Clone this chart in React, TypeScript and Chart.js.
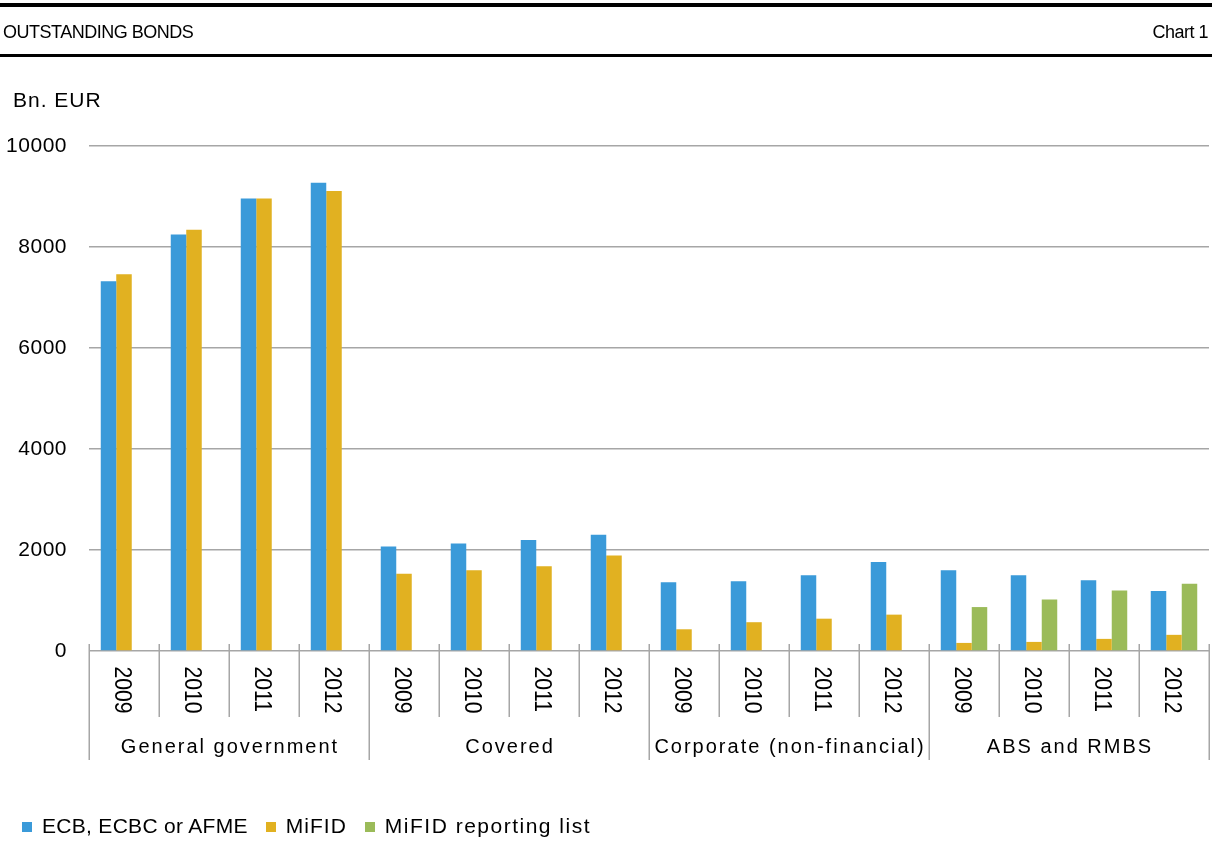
import React, { useEffect, useRef } from "react";
import { Chart, registerables } from "chart.js";

Chart.register(...registerables);

const categories = [
  "2009", "2010", "2011", "2012",
  "2009", "2010", "2011", "2012",
  "2009", "2010", "2011", "2012",
  "2009", "2010", "2011", "2012",
];
const groups = ["General government", "Covered", "Corporate (non-financial)", "ABS and RMBS"];
const ecbValues = [7320, 8250, 8960, 9270, 2070, 2130, 2200, 2300, 1360, 1380, 1500, 1760, 1600, 1500, 1400, 1190];
const mifidValues = [7460, 8340, 8960, 9110, 1530, 1600, 1680, 1890, 430, 570, 640, 720, 160, 180, 240, 320];
const reportingValues: (number | null)[] = [
  null, null, null, null, null, null, null, null, null, null, null, null, 870, 1020, 1200, 1330,
];
const seriesNames = ["ECB, ECBC or AFME", "MiFID", "MiFID reporting list"];
const seriesColors = ["#3a9ad9", "#e1b121", "#9bbb59"];
const yMin = 0;
const yMax = 10000;
const yStep = 2000;

const FONT = '"Liberation Sans", Arial, Helvetica, sans-serif';
const GRID = "#a6a6a6";

const groupAxisPlugin = {
  id: "groupAxis",
  beforeDraw(chart: any) {
    (chart.ctx as any).letterSpacing = "0.5px";
  },
  afterDraw(chart: any) {
    const ctx = chart.ctx;
    const area = chart.chartArea;
    const xs = chart.scales.x;
    const n = categories.length;
    const w = (area.right - area.left) / n;
    ctx.save();
    ctx.strokeStyle = GRID;
    ctx.lineWidth = 1.5;
    for (let i = 0; i <= n; i++) {
      const px = Math.round(area.left + i * w) + 0.25;
      const y1 = i % 4 === 0 ? area.bottom + 109 : area.bottom + 66;
      ctx.beginPath();
      ctx.moveTo(px, area.bottom - 7);
      ctx.lineTo(px, y1);
      ctx.stroke();
    }
    ctx.fillStyle = "#000";
    // rotated year labels (reading top to bottom)
    const yearSize = 24;
    ctx.font = `${yearSize}px ${FONT}`;
    (ctx as any).letterSpacing = "0px";
    ctx.textAlign = "left";
    ctx.textBaseline = "alphabetic";
    for (let i = 0; i < n; i++) {
      const cx = xs.getPixelForValue(i);
      ctx.save();
      ctx.translate(cx, area.bottom + 15.5);
      ctx.rotate(Math.PI / 2);
      ctx.scale(0.88, 1);
      ctx.fillText(categories[i], 0, (0.716 * yearSize) / 2);
      ctx.restore();
    }
    // group labels
    ctx.font = `20px ${FONT}`;
    (ctx as any).letterSpacing = "2px";
    ctx.textAlign = "center";
    for (let g = 0; g < groups.length; g++) {
      const cx = (xs.getPixelForValue(g * 4) + xs.getPixelForValue(g * 4 + 3)) / 2;
      ctx.fillText(groups[g], cx + 1, area.bottom + 102);
    }
    ctx.restore();
    (ctx as any).letterSpacing = "0px";
  },
};

function ChartView() {
  const ref = useRef<HTMLCanvasElement | null>(null);
  useEffect(() => {
    if (!ref.current) return;
    const chart = new Chart(ref.current, {
      type: "bar",
      data: {
        labels: categories,
        datasets: [
          { label: seriesNames[0], data: ecbValues, backgroundColor: seriesColors[0], borderWidth: 0 },
          { label: seriesNames[1], data: mifidValues, backgroundColor: seriesColors[1], borderWidth: 0 },
          { label: seriesNames[2], data: reportingValues as any, backgroundColor: seriesColors[2], borderWidth: 0 },
        ],
      },
      options: {
        responsive: false,
        animation: false,
        devicePixelRatio: 1,
        layout: { padding: { top: 146, left: 0, right: 3, bottom: 192 } },
        plugins: {
          legend: { display: false },
          tooltip: { enabled: false },
          title: { display: false },
        },
        datasets: {
          bar: { categoryPercentage: 0.664, barPercentage: 1 },
        },
        scales: {
          x: {
            display: false,
            grid: { display: false },
          },
          y: {
            min: yMin,
            max: yMax,
            afterFit: (scale: any) => {
              scale.width = 89;
            },
            border: { display: false },
            grid: { color: GRID, lineWidth: 1.5, drawTicks: false },
            ticks: {
              stepSize: yStep,
              padding: 22,
              color: "#000",
              font: { family: FONT, size: 21 },
              callback: (v: any) => String(v),
            },
          },
        },
      },
      plugins: [groupAxisPlugin],
    });
    return () => chart.destroy();
  }, []);
  return (
    <canvas
      ref={ref}
      width={1212}
      height={843}
      style={{ position: "absolute", left: 0, top: 0, width: 1212, height: 843 }}
    />
  );
}

const legendSpacing = ["0.3px", "1px", "1.5px"];

export default function App() {
  const text: React.CSSProperties = { position: "absolute", fontFamily: FONT, color: "#000", whiteSpace: "nowrap" };
  return (
    <div style={{ position: "absolute", left: 0, top: 0, width: 1212, height: 843, background: "#fff", overflow: "hidden" }}>
      <ChartView />
      <div style={{ position: "absolute", left: 0, top: 3, width: 1212, height: 4, background: "#000" }} />
      <div style={{ ...text, left: 3, top: 23, fontSize: 18, lineHeight: "18px", letterSpacing: "-0.5px" }}>OUTSTANDING BONDS</div>
      <div style={{ ...text, right: 4, top: 23, fontSize: 18, lineHeight: "18px", letterSpacing: "-0.5px" }}>Chart 1</div>
      <div style={{ position: "absolute", left: 0, top: 54, width: 1212, height: 3, background: "#000" }} />
      <div style={{ ...text, left: 13, top: 89, fontSize: 21, lineHeight: "21px", letterSpacing: "1px" }}>Bn. EUR</div>
      <div style={{ ...text, left: 22, top: 815, fontSize: 21, lineHeight: "21px", display: "flex", alignItems: "center" }}>
        {seriesNames.map((name, i) => (
          <div key={name} style={{ display: "flex", alignItems: "center", marginRight: 18 }}>
            <span style={{ display: "inline-block", width: 10, height: 10, background: seriesColors[i], marginRight: 10, position: "relative", top: 1 }} />
            <span style={{ letterSpacing: legendSpacing[i] }}>{name}</span>
          </div>
        ))}
      </div>
    </div>
  );
}
